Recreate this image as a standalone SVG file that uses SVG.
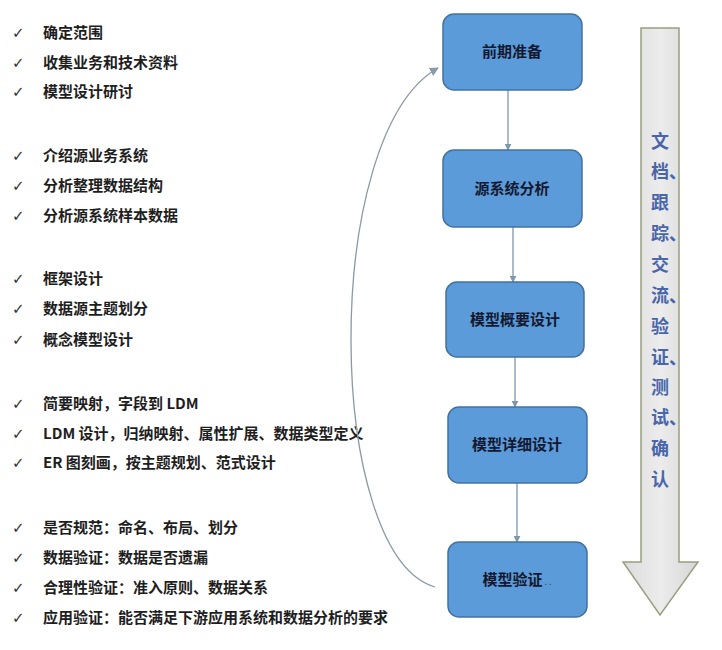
<svg xmlns="http://www.w3.org/2000/svg" width="722" height="650" viewBox="0 0 722 650">
<style>
.item{font-family:"Noto Sans CJK SC","Liberation Sans",sans-serif;font-size:15px;font-weight:bold;fill:#1e1e1e}
.chk{font-family:"DejaVu Sans",sans-serif;font-size:15px;fill:#333}
.box{fill:#5b9bd9;stroke:#4372a0;stroke-width:1.5}
.lbl{font-family:"Noto Sans CJK SC","Liberation Sans",sans-serif;font-size:15px;font-weight:bold;fill:#141830;text-anchor:middle}
.conn{stroke:#7f97a8;stroke-width:1.3;fill:none}
.vt{font-family:"Noto Sans CJK SC","Liberation Sans",sans-serif;font-size:18px;font-weight:bold;fill:#4a66ab}
</style>
<defs>
<marker id="ah" viewBox="0 0 10 10" refX="9" refY="5" markerWidth="7" markerHeight="7" orient="auto" markerUnits="userSpaceOnUse">
<path d="M0,0 L10,5 L0,10 z" fill="#7f97a8"/>
</marker>
<marker id="ah2" viewBox="0 0 10 10" refX="9" refY="5" markerWidth="9" markerHeight="9" orient="auto" markerUnits="userSpaceOnUse">
<path d="M0,0 L10,5 L0,10 z" fill="#8a9aa6"/>
</marker>
<linearGradient id="g" x1="0" y1="0" x2="1" y2="0">
<stop offset="0" stop-color="#dcdcdc"/>
<stop offset="0.5" stop-color="#ececec"/>
<stop offset="1" stop-color="#d6d6d6"/>
</linearGradient>
</defs>
<rect width="722" height="650" fill="#ffffff"/>

<g id="checklist">
<g id="grp1">
<text class="chk" x="12" y="38">✓</text><text class="item" x="43" y="38">确定范围</text>
<text class="chk" x="12" y="68">✓</text><text class="item" x="43" y="68">收集业务和技术资料</text>
<text class="chk" x="12" y="97">✓</text><text class="item" x="43" y="97">模型设计研讨</text>
</g>
<g id="grp2">
<text class="chk" x="12" y="161">✓</text><text class="item" x="43" y="161">介绍源业务系统</text>
<text class="chk" x="12" y="191">✓</text><text class="item" x="43" y="191">分析整理数据结构</text>
<text class="chk" x="12" y="221">✓</text><text class="item" x="43" y="221">分析源系统样本数据</text>
</g>
<g id="grp3">
<text class="chk" x="12" y="284">✓</text><text class="item" x="43" y="284">框架设计</text>
<text class="chk" x="12" y="314">✓</text><text class="item" x="43" y="314">数据源主题划分</text>
<text class="chk" x="12" y="345">✓</text><text class="item" x="43" y="345">概念模型设计</text>
</g>
<g id="grp4">
<text class="chk" x="12" y="409">✓</text><text class="item" x="43" y="409">简要映射，字段到 LDM</text>
<text class="chk" x="12" y="439">✓</text><text class="item" x="43" y="439">LDM 设计，归纳映射、属性扩展、数据类型定义</text>
<text class="chk" x="12" y="468">✓</text><text class="item" x="43" y="468">ER 图刻画，按主题规划、范式设计</text>
</g>
<g id="grp5">
<text class="chk" x="12" y="533">✓</text><text class="item" x="43" y="533">是否规范：命名、布局、划分</text>
<text class="chk" x="12" y="563">✓</text><text class="item" x="43" y="563">数据验证：数据是否遗漏</text>
<text class="chk" x="12" y="593">✓</text><text class="item" x="43" y="593">合理性验证：准入原则、数据关系</text>
<text class="chk" x="12" y="623">✓</text><text class="item" x="43" y="623">应用验证：能否满足下游应用系统和数据分析的要求</text>
</g>
</g>

<g id="connectors">
<line class="conn" x1="508" y1="90" x2="508" y2="150" marker-end="url(#ah)"/>
<line class="conn" x1="513" y1="227" x2="513" y2="282" marker-end="url(#ah)"/>
<line class="conn" x1="515" y1="357" x2="515" y2="407" marker-end="url(#ah)"/>
<line class="conn" x1="517" y1="483" x2="517" y2="542" marker-end="url(#ah)"/>
<path d="M435,587 C325,555 320,135 438,68" fill="none" stroke="#8a9aa6" stroke-width="1.3" marker-end="url(#ah2)"/>
</g>

<g id="n1"><rect class="box" x="443" y="14" width="139" height="76" rx="11"/><text class="lbl" x="512" y="57">前期准备</text></g>
<g id="n2"><rect class="box" x="443" y="150" width="139" height="77" rx="11"/><text class="lbl" x="512" y="194">源系统分析</text></g>
<g id="n3"><rect class="box" x="446" y="282" width="138" height="75" rx="11"/><text class="lbl" x="515" y="325">模型概要设计</text></g>
<g id="n4"><rect class="box" x="448" y="407" width="139" height="76" rx="11"/><text class="lbl" x="517" y="450">模型详细设计</text></g>
<g id="n5"><rect class="box" x="448" y="542" width="139" height="75" rx="11"/><text class="lbl" x="517" y="585">模型验证<tspan font-size="9" font-weight="normal" fill="#3a4a70"> . .</tspan></text></g>

<g id="bigarrow">
<path d="M641,28 L679,28 L679,562 L698,562 L660,615 L623,562 L641,562 Z" fill="url(#g)" stroke="#98a080" stroke-width="1.5"/>
<text class="vt" x="651" y="148">文</text>
<text class="vt" x="651" y="178">档、</text>
<text class="vt" x="651" y="209">跟</text>
<text class="vt" x="651" y="240">踪、</text>
<text class="vt" x="651" y="271">交</text>
<text class="vt" x="651" y="302">流、</text>
<text class="vt" x="651" y="333">验</text>
<text class="vt" x="651" y="364">证、</text>
<text class="vt" x="651" y="394">测</text>
<text class="vt" x="651" y="424">试、</text>
<text class="vt" x="651" y="455">确</text>
<text class="vt" x="651" y="486">认</text>
</g>
</svg>
